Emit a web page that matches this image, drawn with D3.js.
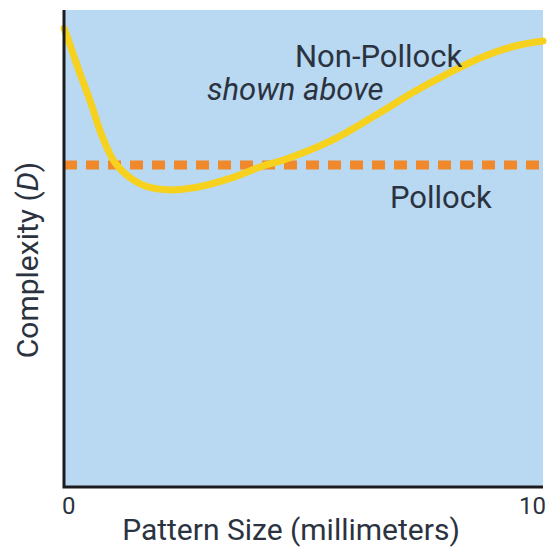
<!DOCTYPE html>
<html>
<head>
<meta charset="utf-8">
<script src="https://cdn.jsdelivr.net/npm/d3@7"></script>
<style>
  html, body { margin: 0; padding: 0; background: #fff; }
  text { font-family: Roboto, "Open Sans", sans-serif; fill: #2b3340; }
</style>
</head>
<body>
<svg id="chart" width="549" height="548"></svg>
<script>
// pattern size (mm) vs. fractal complexity D
const sizes = [0, 0.125, 0.33, 0.54, 0.81, 1.1, 1.6, 2.15, 2.8, 3.5, 4.15, 4.6, 5.6, 6.6, 7.3, 8.0, 8.7, 9.4, 10];
const nonPollock = [1.962, 1.927, 1.868, 1.811, 1.732, 1.675, 1.635, 1.623, 1.629, 1.648, 1.673, 1.686, 1.727, 1.785, 1.828, 1.866, 1.900, 1.924, 1.935];
const pollockD = 1.675;
const xTicks = [0, 10];

const svg = d3.select('#chart'),
  margin = { top: 10, right: 6, bottom: 61, left: 64 },
  width = 549 - margin.left - margin.right,
  height = 548 - margin.top - margin.bottom;

const g = svg.append('g').attr('transform', `translate(${margin.left},${margin.top})`);

const x = d3.scaleLinear().domain([0, 10]).range([0, width]);
const y = d3.scaleLinear().domain([1, 2]).range([height, 0]);

// plot background
g.append('rect')
  .attr('width', width).attr('height', height)
  .style('fill', '#b9d8f1');

const line = d3.line()
  .x((d, i) => x(sizes[i]))
  .y(d => y(d))
  .curve(d3.curveCatmullRom.alpha(0.5));

// pollock reference, dashed
g.append('line')
  .attr('x1', x(0)).attr('x2', x(10))
  .attr('y1', y(pollockD)).attr('y2', y(pollockD))
  .style('stroke', '#f0882c')
  .style('stroke-width', 9)
  .style('stroke-dasharray', '13,9');

g.append('path')
  .datum(nonPollock)
  .attr('d', line)
  .style('fill', 'none')
  .style('stroke', '#f6d21e')
  .style('stroke-width', 7)
  .style('stroke-linecap', 'round');

// axes: only the two lines, tick labels at the ends
g.append('path')
  .attr('d', `M${x(0)},${y(2)} V${y(1)} H${x(10)}`)
  .style('fill', 'none')
  .style('stroke', '#1c1c20')
  .style('stroke-width', 3);

g.selectAll('text.tick')
  .data(xTicks)
  .enter().append('text')
  .classed('tick', true)
  .attr('x', d => d === 0 ? x(d) - 2 : x(d) + 3)
  .attr('y', height + 27)
  .attr('text-anchor', d => d === 0 ? 'start' : 'end')
  .style('font-size', '24px')
  .text(d => d);

g.append('text')
  .attr('x', 291 - margin.left)
  .attr('y', height + 53)
  .attr('text-anchor', 'middle')
  .style('font-size', '30px')
  .text('Pattern Size (millimeters)');

const ylab = g.append('text')
  .attr('transform', `translate(${-26},${260 - margin.top}) rotate(-90)`)
  .attr('text-anchor', 'middle')
  .style('font-size', '30px');
ylab.append('tspan').text('Complexity (');
ylab.append('tspan').style('font-style', 'italic').text('D');
ylab.append('tspan').text(')');

// series labels
g.append('text')
  .attr('x', 231).attr('y', 57)
  .style('font-size', '31px')
  .text('Non-Pollock');

g.append('text')
  .attr('x', 143).attr('y', 90)
  .style('font-size', '31px')
  .style('font-style', 'italic')
  .text('shown above');

g.append('text')
  .attr('x', 326).attr('y', 198)
  .style('font-size', '31px')
  .text('Pollock');
</script>
</body>
</html>
